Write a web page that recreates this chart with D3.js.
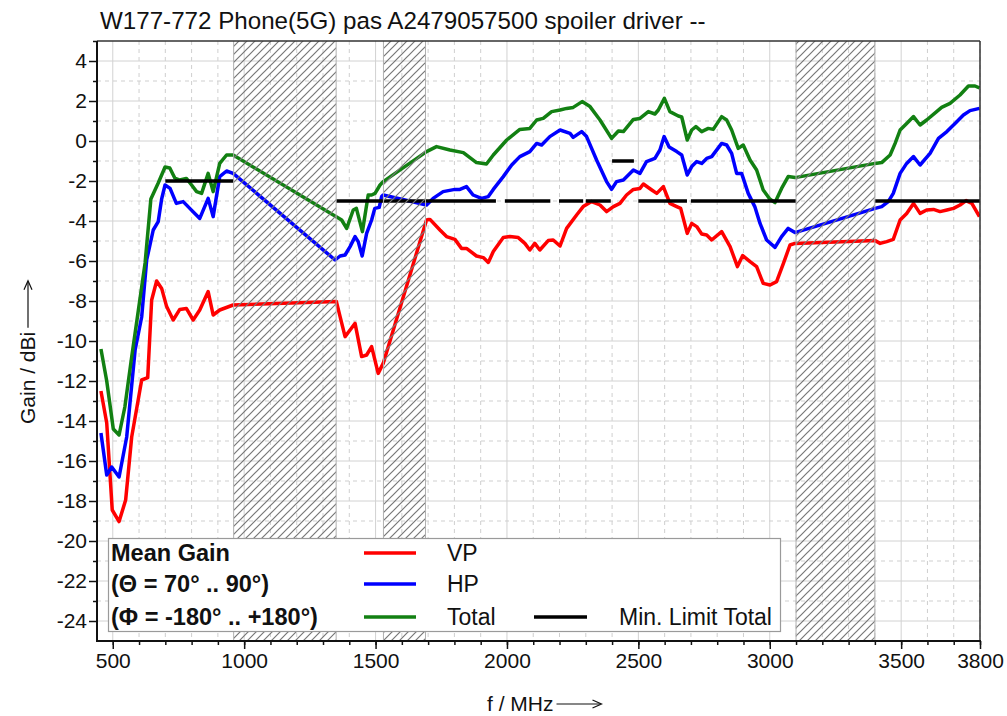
<!DOCTYPE html>
<html><head><meta charset="utf-8">
<script src="https://cdn.jsdelivr.net/npm/d3@7"></script>
<style>
body{margin:0;background:#fff}
svg{display:block}
text{font-family:"Liberation Sans",Arial,sans-serif;fill:#111}
</style>
</head><body>
<svg id="c" width="1007" height="716"></svg>
<script>
const titleText = "W177-772 Phone(5G) pas A2479057500 spoiler driver --";
const xTitle = "f / MHz";
const yTitle = "Gain / dBi";

// [MHz, dBi]
const vp = [[455,-12.5],[477,-14.1],[498,-18.45],[524,-19.03],[549,-17.95],[572,-14.8],[610,-11.95],[633,-11.83],[648,-7.95],[667,-7.0],[686,-7.37],[705,-8.28],[730,-8.95],[755,-8.42],[780,-8.37],[806,-8.95],[831,-8.45],[863,-7.53],[882,-8.7],[907,-8.45],[958,-8.2],
[1351,-8.03],[1365,-8.78],[1384,-9.78],[1403,-9.45],[1422,-9.12],[1447,-10.78],[1466,-10.7],[1485,-10.28],[1510,-11.62],[1529,-11.12],
[1694,-3.95],[1707,-3.92],[1745,-4.45],[1770,-4.78],[1802,-4.92],[1827,-5.37],[1846,-5.37],[1884,-5.75],[1910,-5.83],[1929,-6.07],[1948,-5.53],[1986,-4.83],[2011,-4.78],[2043,-4.83],[2068,-5.12],[2087,-5.45],[2106,-5.12],[2125,-5.45],[2157,-4.98],[2176,-4.95],[2202,-5.25],[2227,-4.37],[2265,-3.7],[2290,-3.28],[2322,-3.03],[2354,-3.2],[2379,-3.53],[2405,-3.28],[2430,-3.12],[2455,-2.7],[2481,-2.42],[2506,-2.37],[2519,-2.15],[2551,-2.45],[2570,-2.62],[2595,-2.28],[2620,-3.12],[2646,-3.28],[2661,-3.37],[2686,-4.62],[2703,-4.12],[2722,-4.28],[2741,-4.65],[2760,-4.7],[2779,-4.95],[2817,-4.53],[2849,-5.28],[2877,-6.28],[2897,-5.73],[2925,-6.03],[2950,-6.28],[2975,-7.12],[3001,-7.2],[3026,-7.03],[3052,-6.12],[3077,-5.2],[3096,-5.12],
[3401,-4.98],[3420,-5.12],[3445,-5.03],[3470,-4.92],[3496,-3.95],[3521,-3.62],[3547,-3.12],[3572,-3.62],[3597,-3.45],[3623,-3.42],[3648,-3.53],[3674,-3.45],[3699,-3.37],[3724,-3.2],[3747,-2.98],[3769,-3.12],[3798,-3.78]];

const hp = [[455,-14.6],[477,-16.7],[496,-16.3],[524,-16.8],[553,-14.8],[585,-10.45],[610,-8.8],[629,-5.95],[654,-4.45],[673,-4.03],[686,-2.9],[699,-2.2],[718,-2.37],[742,-3.12],[768,-3.03],[793,-3.37],[831,-3.87],[863,-2.87],[882,-3.78],[907,-1.78],[933,-1.5],[958,-1.62],
[1346,-5.95],[1365,-5.75],[1384,-5.7],[1403,-5.28],[1422,-4.78],[1434,-5.03],[1449,-5.75],[1466,-4.62],[1485,-3.95],[1497,-3.37],[1514,-3.32],[1523,-2.78],[1529,-2.7],
[1694,-3.2],[1719,-2.87],[1757,-2.53],[1802,-2.42],[1821,-2.42],[1846,-2.28],[1871,-2.7],[1903,-2.87],[1929,-2.78],[1948,-2.42],[1986,-1.78],[2018,-1.2],[2049,-0.78],[2087,-0.53],[2113,-0.12],[2132,-0.2],[2163,0.22],[2202,0.55],[2240,0.38],[2252,0.18],[2284,0.47],[2303,0.22],[2341,-0.95],[2379,-2.03],[2398,-2.42],[2417,-2.03],[2443,-1.95],[2481,-1.45],[2506,-1.62],[2531,-1.03],[2563,-0.87],[2582,-0.45],[2598,0.22],[2617,-0.3],[2646,-0.53],[2665,-0.7],[2686,-1.7],[2703,-1.28],[2722,-1.03],[2741,-1.12],[2760,-0.87],[2779,-0.78],[2817,-0.12],[2836,-0.2],[2855,-0.62],[2874,-1.62],[2893,-1.62],[2918,-2.62],[2943,-3.28],[2963,-4.12],[2988,-4.95],[3020,-5.32],[3045,-4.78],[3070,-4.37],[3096,-4.58],
[3401,-3.37],[3426,-3.28],[3451,-3.03],[3470,-2.62],[3496,-1.62],[3521,-1.12],[3547,-0.78],[3572,-1.2],[3610,-0.62],[3642,0.13],[3674,0.47],[3705,0.88],[3737,1.3],[3762,1.52],[3798,1.63]];

const total = [[455,-10.4],[477,-12.0],[502,-14.4],[524,-14.7],[546,-13.3],[572,-10.8],[597,-8.5],[623,-6.1],[645,-2.9],[666,-2.3],[673,-2.1],[699,-1.3],[717,-1.35],[736,-1.85],[755,-1.95],[780,-1.87],[800,-2.2],[819,-2.53],[838,-2.62],[863,-1.62],[882,-2.53],[907,-1.12],[933,-0.7],[958,-0.7],
[1352,-3.8],[1371,-3.95],[1390,-4.37],[1415,-3.45],[1427,-3.37],[1450,-4.53],[1472,-2.7],[1485,-2.7],[1498,-2.62],[1517,-2.2],[1529,-2.03],
[1694,-0.53],[1732,-0.28],[1783,-0.45],[1834,-0.58],[1884,-1.08],[1922,-1.15],[1948,-0.7],[1999,0.05],[2049,0.58],[2087,0.63],[2113,1.05],[2138,1.13],[2170,1.47],[2202,1.55],[2227,1.63],[2252,1.68],[2286,1.97],[2316,1.72],[2354,1.05],[2398,0.13],[2424,0.5],[2443,0.47],[2481,1.08],[2506,1.13],[2538,1.47],[2563,1.35],[2576,1.55],[2599,2.13],[2620,1.47],[2652,1.25],[2665,1.2],[2686,0.05],[2703,0.55],[2719,0.72],[2741,0.47],[2766,0.63],[2785,0.58],[2817,1.22],[2836,1.05],[2855,0.55],[2880,-0.37],[2899,-0.2],[2925,-0.95],[2950,-1.45],[2975,-2.45],[3000,-2.9],[3020,-3.08],[3045,-2.37],[3070,-1.78],[3096,-1.83],
[3401,-1.12],[3426,-1.08],[3458,-0.7],[3477,-0.12],[3496,0.55],[3521,0.88],[3547,1.22],[3572,0.8],[3597,1.05],[3635,1.47],[3654,1.68],[3686,1.88],[3724,2.3],[3756,2.75],[3781,2.75],[3798,2.65]];

const limStart = [700,1350,1992,2198,2300,2400,2500,2700,3400];
const limEnd   = [960,1958,2165,2290,2395,2483,2685,3100,3800];
const limVal   = [-2,-3,-3,-3,-3,-1,-3,-3,-3];

const hatchStart = [960,1530,3100];
const hatchEnd   = [1350,1690,3400];

const xTickLabels = [500,1000,1500,2000,2500,3000,3500,3800];
const xMinorTicks = d3.range(500,3801,100);
const yTickLabels = d3.range(4,-25,-2);
const yMinorTicks = d3.range(5,-25,-2);

const legendInfo = ["Mean Gain","(\u0398 = 70\u00b0 .. 90\u00b0)","(\u03a6 = -180\u00b0 .. +180\u00b0)"];
const seriesNames = ["VP","HP","Total","Min. Limit Total"];

// ---- layout ----
const L=97, R=980, T=41, B=641;
const x = d3.scaleLinear().domain([440,3800]).range([L,R]);
const y = d3.scaleLinear().domain([-25,5]).range([B,T]);
const colors = {VP:"#ff0000", HP:"#0000ff", Total:"#128012", Lim:"#000000"};
const FONT = '"Liberation Sans",Arial,sans-serif';

const svg = d3.select("#c");
const defs = svg.append("defs");
const pat = defs.append("pattern").attr("id","hatch").attr("patternUnits","userSpaceOnUse")
  .attr("width",8).attr("height",8);
pat.append("path").attr("d","M-2,2 L2,-2 M0,8 L8,0 M6,10 L10,6")
  .attr("stroke","#777").attr("stroke-width",1.2);
defs.append("clipPath").attr("id","clip").append("rect")
  .attr("x",L).attr("y",T).attr("width",R-L).attr("height",B-T);

// grid
const g = svg.append("g");
xMinorTicks.forEach(v=>{
  const major = v%500===0;
  g.append("line").attr("x1",x(v)).attr("x2",x(v)).attr("y1",T).attr("y2",B)
   .attr("stroke",major?"#d2d2d2":"#cfcfcf").attr("stroke-width",1)
   .attr("stroke-dasharray",major?null:"4,4");
});
d3.range(-24,5,1).forEach(v=>{
  const major = v%2===0;
  g.append("line").attr("x1",L).attr("x2",R).attr("y1",y(v)).attr("y2",y(v))
   .attr("stroke",major?"#d2d2d2":"#cfcfcf").attr("stroke-width",1)
   .attr("stroke-dasharray",major?null:"4,4");
});

// curves
const line = d3.line().x(d=>x(d[0])).y(d=>y(d[1]));
const cg = svg.append("g").attr("clip-path","url(#clip)");
[[vp,colors.VP],[hp,colors.HP],[total,colors.Total]].forEach(([data,c])=>{
  cg.append("path").datum(data).attr("d",line).attr("fill","none")
    .attr("stroke",c).attr("stroke-width",3.5).attr("stroke-linejoin","round");
});
// limit
limStart.forEach((s,i)=>{
  cg.append("line").attr("x1",x(s)).attr("x2",x(limEnd[i]))
    .attr("y1",y(limVal[i])).attr("y2",y(limVal[i]))
    .attr("stroke",colors.Lim).attr("stroke-width",3.5);
});

// hatch bands
hatchStart.forEach((s,i)=>{
  svg.append("rect").attr("x",x(s)).attr("y",T).attr("width",x(hatchEnd[i])-x(s)).attr("height",B-T)
    .attr("fill","url(#hatch)").attr("stroke","none");
  [s,hatchEnd[i]].forEach(v=>svg.append("line").attr("x1",x(v)).attr("x2",x(v)).attr("y1",T).attr("y2",B)
    .attr("stroke","#b0b0b0").attr("stroke-width",1));
});

// frame
svg.append("line").attr("x1",L).attr("x2",R).attr("y1",T).attr("y2",T).attr("stroke","#333").attr("stroke-width",1.5);
svg.append("line").attr("x1",R).attr("x2",R).attr("y1",T).attr("y2",B).attr("stroke","#333").attr("stroke-width",1.5);

// axes
const xAxisMinor = d3.axisBottom(x).tickValues(xMinorTicks).tickSize(4).tickFormat("");
const xAxis = d3.axisBottom(x).tickValues(xTickLabels).tickSize(8).tickPadding(4).tickFormat(d3.format("d"));
const yAxisMinor = d3.axisLeft(y).tickValues(yMinorTicks).tickSize(4).tickFormat("");
const yAxis = d3.axisLeft(y).tickValues(yTickLabels).tickSize(8).tickPadding(2).tickFormat(d=>d);
function styleAx(sel){
  sel.attr("font-size",21).attr("font-family",FONT);
  sel.select(".domain").remove();
  sel.selectAll(".tick line").attr("stroke","#111").attr("stroke-width",1.5);
  sel.selectAll("text").attr("font-size",21).attr("fill","#111").style("font-family",FONT);
}
svg.append("g").attr("transform",`translate(0,${B})`).call(xAxisMinor).call(styleAx);
svg.append("g").attr("transform",`translate(0,${B})`).call(xAxis).call(styleAx);
svg.append("g").attr("transform",`translate(${L},0)`).call(yAxisMinor).call(styleAx);
svg.append("g").attr("transform",`translate(${L},0)`).call(yAxis).call(styleAx);
svg.append("line").attr("x1",L).attr("x2",L).attr("y1",T).attr("y2",B+1).attr("stroke","#111").attr("stroke-width",2);
svg.append("line").attr("x1",L-1).attr("x2",R+1).attr("y1",B).attr("y2",B).attr("stroke","#111").attr("stroke-width",2);

// titles
function fitText(t, w){
  const len = t.node().getComputedTextLength();
  const fs = parseFloat(t.attr("font-size"));
  t.attr("font-size", fs*w/len);
}
const tt = svg.append("text").attr("x",100).attr("y",29).attr("font-size",20).attr("fill","#222").text(titleText);
fitText(tt,606);

const xt = svg.append("text").attr("x",487).attr("y",711).attr("font-size",21).text(xTitle);
const xtEnd = 487 + xt.node().getComputedTextLength() + 3;
svg.append("line").attr("x1",xtEnd).attr("x2",xtEnd+44).attr("y1",704).attr("y2",704).attr("stroke","#111").attr("stroke-width",1.2);
svg.append("path").attr("d",`M${xtEnd+36},700 L${xtEnd+45},704 L${xtEnd+36},708`).attr("fill","none").attr("stroke","#111").attr("stroke-width",1.2);

const yg = svg.append("g").attr("transform","translate(35,424) rotate(-90)");
const ytt = yg.append("text").attr("x",0).attr("y",0).attr("font-size",21).text(yTitle);
const ytEnd = ytt.node().getComputedTextLength() + 4;
yg.append("line").attr("x1",ytEnd).attr("x2",ytEnd+46).attr("y1",-7).attr("y2",-7).attr("stroke","#111").attr("stroke-width",1.2);
yg.append("path").attr("d",`M${ytEnd+38},-11 L${ytEnd+47},-7 L${ytEnd+38},-3`).attr("fill","none").attr("stroke","#111").attr("stroke-width",1.2);

// legend
const lg = svg.append("g");
lg.append("rect").attr("x",108.5).attr("y",538.5).attr("width",672).attr("height",93)
  .attr("fill","#fff").attr("stroke","#9a9a9a").attr("stroke-width",1.2);
const rowY = [553,584,617];
const boldTexts = legendInfo.map((s,i)=>
  lg.append("text").attr("x",111).attr("y",rowY[i]+8).attr("font-size",22).attr("font-weight","bold").text(s));
const phiLen = boldTexts[2].node().getComputedTextLength();
const boldSize = 22*207/phiLen;
boldTexts.forEach(t=>t.attr("font-size",boldSize));
const sc = [colors.VP,colors.HP,colors.Total];
[0,1,2].forEach(i=>{
  lg.append("line").attr("x1",364).attr("x2",416).attr("y1",rowY[i]).attr("y2",rowY[i]).attr("stroke",sc[i]).attr("stroke-width",3.5);
  lg.append("text").attr("x",447).attr("y",rowY[i]+8).attr("font-size",23).text(seriesNames[i]);
});
lg.append("line").attr("x1",534).attr("x2",587).attr("y1",rowY[2]).attr("y2",rowY[2]).attr("stroke",colors.Lim).attr("stroke-width",3.5);
lg.append("text").attr("x",619).attr("y",rowY[2]+8).attr("font-size",23).text(seriesNames[3]);
</script>
</body></html>
